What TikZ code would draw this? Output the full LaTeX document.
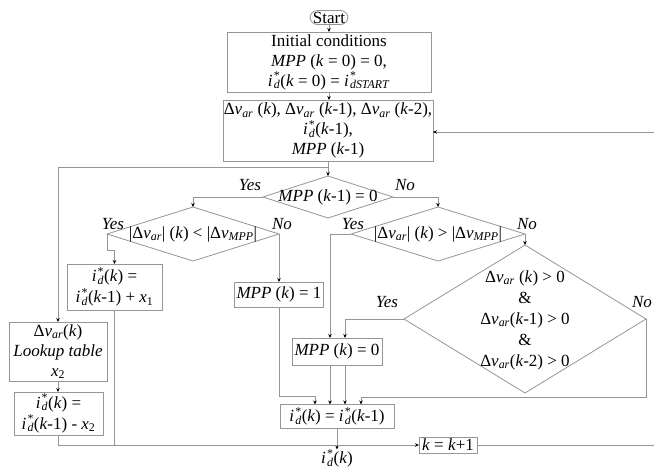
\documentclass[tikz,border=0pt]{standalone}
\usepackage{fontspec}
\setmainfont{Liberation Serif}
\usetikzlibrary{shapes.geometric,arrows.meta,calc}
\definecolor{lc}{RGB}{150,150,150}
\newcommand\fs{\fontsize{17}{20}\selectfont}
\newcommand\fsw{\fontsize{17}{21}\selectfont}
\newcommand\isd{\textit{i}\kern1.2pt\rlap{\textsuperscript{*}}\textsubscript{\textit{d}}}
\newcommand\dvar{Δ\textit{v}\textsubscript{\textit{ar}}}
\newcommand\mpp{\textit{MPP}}
\newcommand\kk{\textit{k}}
\begin{document}
\begin{tikzpicture}[x=1pt,y=-1pt,
  box/.style={draw=lc, line width=0.8pt, rectangle, inner sep=0pt, outer sep=0pt, align=center, font=\fs},
  dia/.style={draw=lc, line width=0.8pt, diamond, inner sep=0pt, outer sep=0pt},
  txt/.style={align=center, inner sep=0pt, font=\fs},
  yn/.style={inner sep=0pt, font=\fs\itshape},
  conn/.style={draw=lc, line width=0.8pt},
  arr/.style={conn, -{Stealth[length=4pt,width=3.5pt,black]}}]
\fill[white] (0,0) rectangle (654,469);
\useasboundingbox (0,0) rectangle (654,469);

\node[box, rounded corners=7.5pt, minimum width=38pt, minimum height=14pt] (start) at (329,17.5) {Start};
\node[box, minimum width=204pt, minimum height=60pt] (b1) at (329,62)
  {Initial conditions\\ \mpp{} (\kk{} = 0) = 0,\\ \isd(\kk{} = 0) = \textit{i}\kern1.2pt\rlap{\textsuperscript{*}}\textsubscript{\textit{dSTART}}};
\node[box, minimum width=210pt, minimum height=61pt] (b2) at (328,130.5)
  {\dvar{} (\kk), \dvar{} (\kk-1), \dvar{} (\kk-2),\\ \isd(\kk-1),\\ \mpp{} (\kk-1)};

\node[dia, minimum width=130pt, minimum height=42pt] (d1) at (328,197) {};
\node[txt] (d1t) at (328,197) {\mpp{} (\kk-1) = 0};
\node[dia, minimum width=172pt, minimum height=54pt] (d2) at (193,234) {};
\node[txt] (d2t) at (193,234) {|\dvar| (\kk) < |Δ\textit{v}\textsubscript{\textit{MPP}}|};
\node[dia, minimum width=174pt, minimum height=54pt] (d3) at (438,234) {};
\node[txt] (d3t) at (438,234) {|\dvar| (\kk) > |Δ\textit{v}\textsubscript{\textit{MPP}}|};
\node[dia, minimum width=242pt, minimum height=148pt] (d4) at (525,319) {};
\node[txt, font=\fsw] (d4t) at (525,320)
  {\dvar{} (\kk) > 0\\ \&\\ \dvar(\kk-1) > 0\\ \&\\ \dvar(\kk-2) > 0};

\node[box, font=\fsw, minimum width=95pt, minimum height=46pt] (b3) at (114.5,287)
  {\isd(\kk) =\\ \isd(\kk-1) + \textit{x}\textsubscript{1}};
\node[box, minimum width=89pt, minimum height=25pt] (b4) at (279,294.5) {\mpp{} (\kk) = 1};
\node[box, minimum width=90pt, minimum height=27pt] (b5) at (337,351.5) {\mpp{} (\kk) = 0};
\node[box, minimum width=114pt, minimum height=24pt] (b6) at (337,416.5) {\isd(\kk) = \isd(\kk-1)};
\node[box, minimum width=98pt, minimum height=59pt] (b7) at (58,351.5)
  {\dvar(\kk)\\ \textit{Lookup table}\\ \textit{x}\textsubscript{2}};
\node[box, font=\fsw, minimum width=89pt, minimum height=43pt] (b8) at (58.5,413.5)
  {\isd(\kk) =\\ \isd(\kk-1) - \textit{x}\textsubscript{2}};
\node[box, minimum width=58pt, minimum height=16pt] (b9) at (448,445) {\kk{} = \kk+1};
\node[txt] (out) at (337,458.5) {\isd(\kk)};

\node[yn] (y1) at (250,185) {Yes};
\node[yn] (n1) at (405,185) {No};
\node[yn] (y2) at (113,224) {Yes};
\node[yn] (n2) at (282,224) {No};
\node[yn] (y3) at (353,224) {Yes};
\node[yn] (n3) at (527,224) {No};
\node[yn] (y4) at (387,302) {Yes};
\node[yn] (n4) at (642,302) {No};

\coordinate (r1) at (654,132);
\coordinate (r2) at (654,445);
\coordinate (j1) at (328,167);

\draw[arr] (start.south) -- (start.south |- b1.north);
\draw[arr] (b1.south) -- (b1.south |- b2.north);
\draw[arr] (r1) -- (r1 -| b2.east);
\draw[arr] (b2.south) -- (d1.north);
\draw[arr] (j1) -| (b7.north);
\draw[arr] (d1.west) -| (d2.north);
\draw[arr] (d1.east) -| (d3.north);
\draw[arr] (d2.west) -- ++(0,16) -| (b3.north);
\draw[arr] (d2.east) -- (d2.east |- b4.north);
\draw[arr] (d3.east) -- (d4.north);
\draw[arr] (d3.west) -| ($(b5.north)+(-7,0)$);
\draw[arr] (d4.west) -| ($(b5.north)+(8,0)$);
\draw[arr] ($(b5.south)+(-7,0)$) -- ($(b6.north)+(-7,0)$);
\draw[arr] ($(b5.south)+(8,0)$) -- ($(b6.north)+(8,0)$);
\draw[arr] (b4.south) |- ($(b6.north)+(-22,-8)$) -- ($(b6.north)+(-22,0)$);
\draw[arr] (d4.east) |- ($(b6.north)+(24,-7)$) -- ($(b6.north)+(24,0)$);
\draw[arr] (b6.south) -- (out.north);
\draw[arr] (b7.south) -- (b7.south |- b8.north);
\draw[arr] (b8.south) |- (b9.west);
\draw[conn] (b3.south) -- (b3.south |- b9.west);
\draw[conn] (b9.east) -- (r2);
\end{tikzpicture}
\end{document}
